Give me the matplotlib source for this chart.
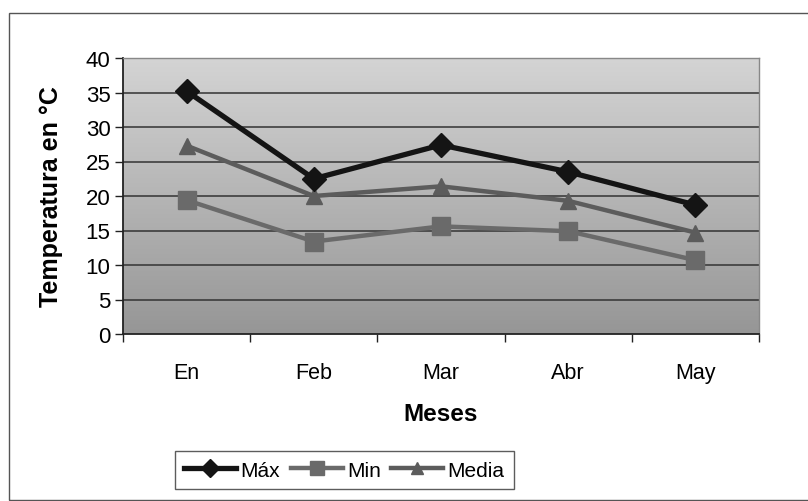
import matplotlib
matplotlib.use("Agg")
import matplotlib.pyplot as plt
import numpy as np
from matplotlib.patches import Rectangle

months = ["En", "Feb", "Mar", "Abr", "May"]
t_max = [35.2, 22.5, 27.4, 23.5, 18.7]
t_min = [19.4, 13.4, 15.6, 14.9, 10.7]
t_media = [27.3, 20.0, 21.4, 19.3, 14.7]

plt.rcParams['font.family'] = ['Liberation Sans', 'DejaVu Sans']

fig = plt.figure(figsize=(8.08, 5.02), dpi=100)
fig.patches.append(Rectangle((9/808, 0.002), 1.2, 1 - 14/502 - 0.002, transform=fig.transFigure,
                             fill=False, edgecolor='#555555', linewidth=1.0))

ax = fig.add_axes([123/808, 1 - 335/502, (759 - 123)/808, (335 - 59)/502])

x = np.arange(len(months))
ax.set_xlim(-0.5, len(months) - 0.5)
ax.set_ylim(0, 40)

# gradient background
grad = np.linspace(0, 1, 256).reshape(-1, 1)
ax.imshow(grad, extent=[0, 1, 0, 1], transform=ax.transAxes, aspect='auto',
          cmap=matplotlib.colors.LinearSegmentedColormap.from_list('g', ['#d4d4d4', '#969696']),
          origin='upper', zorder=0)

ax.set_yticks(range(0, 41, 5))
for yv in range(5, 41, 5):
    ax.axhline(yv, color='#333333', linewidth=1.1, zorder=1)

ax.plot(x, t_max, color='#141414', linewidth=3.8, marker='D', markersize=12.5, label='Máx', zorder=4)
ax.plot(x, t_min, color='#6a6a6a', linewidth=3.2, marker='s', markersize=13.5, label='Min', zorder=3)
ax.plot(x, t_media, color='#5c5c5c', linewidth=3.2, marker='^', markersize=11.5, label='Media', zorder=3)

ax.set_xticks(x)
ax.set_xticklabels(months)
ax.set_xticks(np.arange(-0.5, len(months)), minor=True)
ax.tick_params(axis='x', which='major', length=0, pad=20, labelsize=15.5)
ax.tick_params(axis='x', which='minor', length=6, width=1.0, direction='out', color='#222222')
ax.tick_params(axis='y', length=6, width=1.0, direction='out', labelsize=16, color='#222222', pad=3)

for s in ['left', 'bottom']:
    ax.spines[s].set_color('#222222')
    ax.spines[s].set_linewidth(1.3)
for s in ['top', 'right']:
    ax.spines[s].set_color('#888888')
    ax.spines[s].set_linewidth(1.0)

ax.set_xlabel('Meses', fontsize=17.5, fontweight='bold', labelpad=14)
ax.set_ylabel('Temperatura en °C', fontsize=18, fontweight='bold', labelpad=16)

leg = fig.legend(loc='lower left', bbox_to_anchor=(175/808, 1 - 490/502), ncol=3,
                 fontsize=15, frameon=True, fancybox=False, edgecolor='#333333',
                 handlelength=2.5, handletextpad=0.2, columnspacing=0.5, markerscale=0.7,
                 borderpad=0.45, borderaxespad=0.0)
leg.get_frame().set_linewidth(1.0)

fig.savefig('out.png', dpi=100)
